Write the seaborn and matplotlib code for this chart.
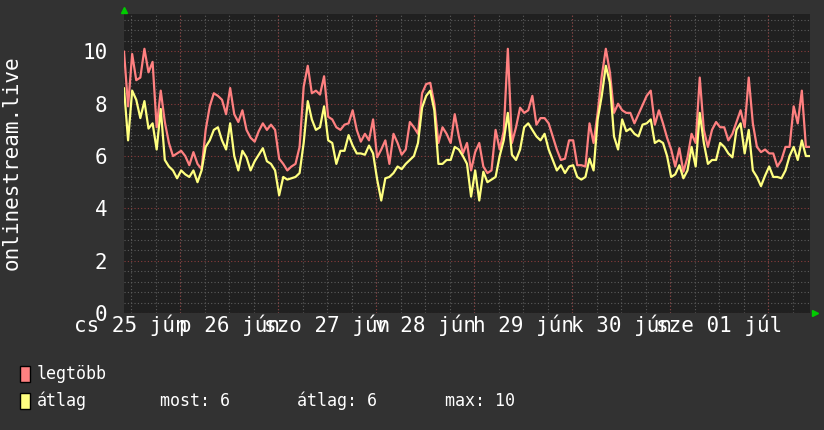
import numpy as np
import pandas as pd
import matplotlib
matplotlib.use("Agg")
import matplotlib.pyplot as plt
import matplotlib.dates as mdates
import matplotlib.transforms as mtransforms
from matplotlib.patches import Rectangle
from matplotlib.ticker import MultipleLocator
import seaborn as sns


# hourly samples, 2020-06-25 10:15 -> 2020-07-02 10:15
START = "2020-06-25 10:15"

LEGTOBB = [
    10.0, 7.9, 9.9, 8.9, 9.0, 10.1, 9.2, 9.6, 7.1, 8.5,
    7.3, 6.5, 6.0, 6.1, 6.2, 6.0, 5.65, 6.15, 5.7, 5.5,
    7.0, 7.9, 8.4, 8.3, 8.15, 7.6, 8.6, 7.6, 7.3,
    7.75, 7.0, 6.7, 6.55, 6.95, 7.25, 7.0, 7.2, 7.0,
    5.9, 5.7, 5.45, 5.6, 5.7, 6.35, 8.65, 9.45, 8.4, 8.5,
    8.35, 9.05, 7.5, 7.4, 7.1, 7.0, 7.2, 7.25, 7.75,
    7.0, 6.55, 6.85, 6.6, 7.4, 5.95, 6.25, 6.6, 5.7, 6.85,
    6.5, 6.05, 6.25, 7.3, 7.1, 6.85, 8.4, 8.75, 8.8, 8.0,
    6.5, 7.1, 6.85, 6.5, 7.6, 6.75, 6.1, 6.5,
    5.45, 6.15, 6.5, 5.6, 5.35, 5.45, 7.0, 6.25, 6.95, 10.1,
    6.5, 7.1, 7.85, 7.65, 7.75, 8.3, 7.2, 7.45, 7.45, 7.25,
    6.75, 6.25, 5.85, 5.9, 6.6, 6.6, 5.65, 5.65,
    5.6, 7.25, 6.5, 7.65, 9.05, 10.1, 9.2, 7.65, 8.0, 7.75,
    7.65, 7.65, 7.25, 7.6, 7.95, 8.3, 8.5, 7.2, 7.75, 7.25,
    6.7, 6.25, 5.6, 6.3, 5.4, 5.95, 6.85, 6.5,
    9.0, 7.0, 6.35, 7.0, 7.3, 7.1, 7.1, 6.6, 6.85, 7.3,
    7.75, 7.1, 9.0, 7.25, 6.35, 6.15, 6.25, 6.1, 6.1, 5.6,
    5.85, 6.35, 6.35, 7.9, 7.25, 8.5, 6.35, 6.35,
]

ATLAG = [
    8.6, 6.6, 8.5, 8.15, 7.45, 8.1, 7.05, 7.25, 6.25, 7.8,
    5.85, 5.6, 5.45, 5.15, 5.45, 5.3, 5.2, 5.45, 5.0, 5.45,
    6.35, 6.6, 7.0, 7.1, 6.6, 6.25, 7.25, 6.0, 5.45,
    6.2, 5.95, 5.45, 5.8, 6.05, 6.3, 5.8, 5.7, 5.45,
    4.5, 5.2, 5.1, 5.15, 5.2, 5.35, 6.5, 8.1, 7.4, 7.0,
    7.1, 7.9, 6.6, 6.5, 5.7, 6.2, 6.2, 6.8, 6.4,
    6.1, 6.1, 6.05, 6.4, 6.1, 5.1, 4.3, 5.15, 5.2, 5.35,
    5.6, 5.5, 5.7, 5.85, 6.0, 6.5, 7.85, 8.3, 8.5, 7.75,
    5.7, 5.7, 5.85, 5.85, 6.35, 6.25, 6.0, 5.7,
    4.45, 5.45, 4.3, 5.4, 5.0, 5.1, 5.2, 6.0, 6.6, 7.65,
    6.05, 5.85, 6.25, 7.1, 7.25, 7.0, 6.75, 6.6, 6.85, 6.25,
    5.85, 5.45, 5.65, 5.35, 5.6, 5.65, 5.2, 5.1,
    5.2, 5.9, 5.45, 7.4, 8.3, 9.45, 8.8, 6.75, 6.25, 7.4,
    6.95, 7.05, 6.85, 6.75, 7.2, 7.25, 7.4, 6.5, 6.6, 6.5,
    6.0, 5.2, 5.3, 5.65, 5.15, 5.45, 6.35, 5.6,
    7.65, 6.5, 5.7, 5.85, 5.85, 6.5, 6.35, 6.1, 5.95, 7.0,
    7.25, 6.1, 7.0, 5.45, 5.2, 4.85, 5.25, 5.6, 5.2, 5.2,
    5.15, 5.45, 6.0, 6.35, 5.85, 6.6, 6.0, 6.0,
]

DAY_LABELS = ["cs 25 jún", "p 26 jún", "szo 27 jún", "v 28 jún",
              "h 29 jún", "k 30 jún", "sze 01 júl"]
SERIES = ["legtöbb", "átlag"]
COLORS = ["#ff8080", "#ffff80"]
YLABEL = "onlinestream.live"
YTICKS = [0, 2, 4, 6, 8, 10]

BACK = "#323232"
CANVAS = "#202020"
W, H = 824, 430


def main() -> None:
    sns.set_theme(style="dark")
    plt.rcParams["font.family"] = ["DejaVu Sans Mono", "DejaVu Sans"]

    times = pd.date_range(START, periods=len(LEGTOBB), freq="h")
    df = pd.DataFrame({"time": times, SERIES[0]: LEGTOBB, SERIES[1]: ATLAG})
    df = df.melt("time", var_name="series", value_name="value")

    fig = plt.figure(figsize=(W / 100, H / 100), dpi=100, facecolor=BACK)
    ax = fig.add_axes([124 / W, 1 - 313 / H, (810 - 124) / W, (313 - 14) / H])
    ax.set_facecolor(CANVAS)
    for s in ax.spines.values():
        s.set_visible(False)

    ax.set_xlim(times[0], times[-1])
    ax.set_ylim(0, 11.43)

    # grid: gray dotted minor, red dotted major
    ax.xaxis.set_minor_locator(mdates.HourLocator(byhour=[0, 6, 12, 18]))
    ax.xaxis.remove_overlapping_locs = False
    ax.yaxis.set_minor_locator(MultipleLocator(0.4))
    ax.grid(which="minor", color="#5c5c5c", ls=(0, (1, 2)), lw=0.8)
    ax.grid(which="major", axis="y", color="#8a3c3c", ls=(0, (1, 2)), lw=0.8)
    ax.grid(which="major", axis="x", visible=False)
    for d in pd.date_range("2020-06-26", "2020-07-02", freq="D"):
        ax.axvline(d, color="#8a3c3c", ls=(0, (1, 2)), lw=0.8, zorder=0.6)
    ax.set_axisbelow(True)

    sns.lineplot(data=df, x="time", y="value", hue="series", hue_order=SERIES,
                 palette=COLORS, estimator=None, lw=1.6, legend=False, ax=ax)

    noons = pd.date_range("2020-06-25 12:00", periods=len(DAY_LABELS), freq="D")
    ax.set_xticks(noons)
    ax.set_xticklabels(DAY_LABELS)
    ax.set_yticks(YTICKS)
    ax.set_yticklabels([str(t) for t in YTICKS])
    ax.tick_params(which="both", length=0, colors="white", labelsize=15)
    ax.tick_params(axis="y", pad=12)
    ax.tick_params(axis="x", pad=1)
    ax.set_xlabel("")
    ax.set_ylabel("")

    fig.text(12 / W, 1 - 163 / H, YLABEL, rotation=90, color="white",
             fontsize=15, ha="center", va="center")

    # green axis arrows
    up = mtransforms.offset_copy(ax.transAxes, fig=fig, x=0, y=4, units="dots")
    ax.plot([0], [1], marker="^", ms=5, color="#00cc00", mec="#00cc00",
            transform=up, clip_on=False)
    right = mtransforms.offset_copy(ax.transAxes, fig=fig, x=5, y=0, units="dots")
    ax.plot([1], [0], marker=">", ms=5, color="#00cc00", mec="#00cc00",
            transform=right, clip_on=False)

    # legend
    rows = [374, 401]
    for name, col, yc in zip(SERIES, COLORS, rows):
        fig.patches.append(Rectangle((20 / W, 1 - (yc + 8) / H), 10 / W, 16 / H,
                                     transform=fig.transFigure, facecolor=col,
                                     edgecolor="black", lw=1))
        fig.text(37 / W, 1 - yc / H, name, color="white", fontsize=12, va="center")

    stats = [("most", ATLAG[-1], 160), ("átlag", np.mean(ATLAG), 297),
             ("max", max(LEGTOBB), 445)]
    for label, val, x in stats:
        fig.text(x / W, 1 - rows[1] / H, f"{label}: {val:.0f}", color="white",
                 fontsize=12, va="center")

    fig.savefig("out.png", dpi=100, facecolor=BACK)


if __name__ == "__main__":
    main()
